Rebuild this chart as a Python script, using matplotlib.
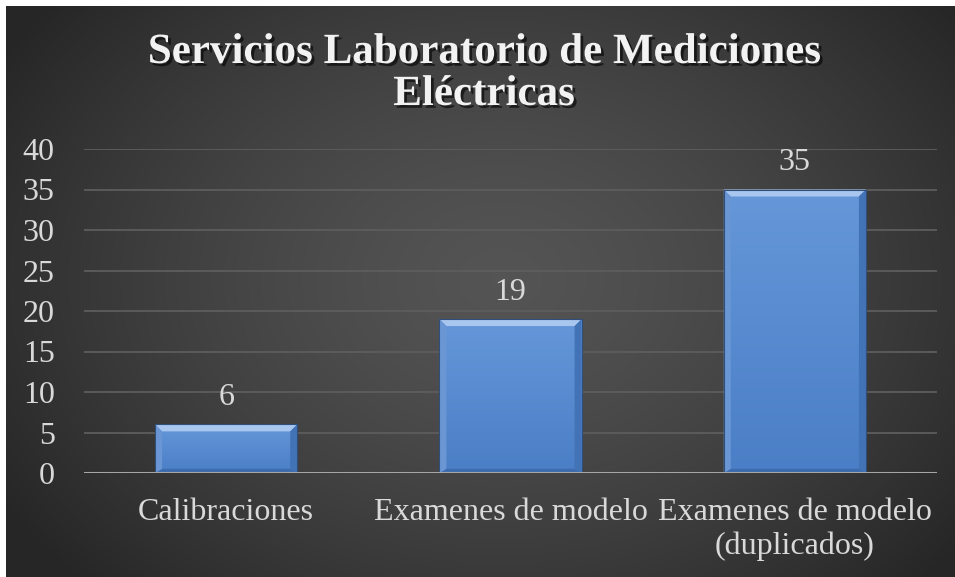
import matplotlib
matplotlib.use("Agg")
import matplotlib.pyplot as plt
import matplotlib.patheffects as pe
from matplotlib.patches import Polygon
import numpy as np

# ------------------------------------------------------------------
# Data
# ------------------------------------------------------------------
categories = ["Calibraciones", "Examenes de modelo", "Examenes de modelo\n(duplicados)"]
values = [6, 19, 35]
yticks = [0, 5, 10, 15, 20, 25, 30, 35, 40]
title_lines = ["Servicios Laboratorio de Mediciones", "Eléctricas"]

W_PX, H_PX, DPI = 955, 577, 100
plt.rcParams["font.family"] = ["Liberation Serif", "DejaVu Serif"]

fig = plt.figure(figsize=(W_PX / DPI, H_PX / DPI), dpi=DPI)
fig.patch.set_facecolor("white")

# ------------------------------------------------------------------
# Background: dark radial gradient (chart area starts 6 px in from top/left)
# ------------------------------------------------------------------
bg = fig.add_axes([6 / W_PX, 0, 1 - 6 / W_PX, 1 - 6 / H_PX], zorder=0)
gx, gy = np.meshgrid(np.linspace(6, W_PX, 400), np.linspace(6, H_PX, 250))
r = np.hypot((gx - 500) / 560, (gy - 280) / 420)
shade = np.clip(0.33 - 0.17 * r ** 1.4, 0.15, 0.34)
bg.imshow(np.dstack([shade] * 3), aspect="auto", interpolation="bilinear")
bg.axis("off")

# ------------------------------------------------------------------
# Plot area
# ------------------------------------------------------------------
left, right = 84 / W_PX, 937 / W_PX
bottom, top = 1 - 473 / H_PX, 1 - 149 / H_PX
ax = fig.add_axes([left, bottom, right - left, top - bottom], zorder=1)
ax.set_facecolor("none")
x = np.arange(len(categories))
ax.set_xlim(-0.5, len(categories) - 0.5)
ax.set_ylim(0, 40)

for yv in yticks[1:]:
    ax.axhline(yv, color="#5d5d5d", lw=1.3, zorder=0)
ax.axhline(0, color="#a6a6a6", lw=2.2, zorder=4)

bars = ax.bar(x, values, width=0.5, color="#5b8fd3", zorder=2)

# px -> data conversions for bevel thickness
ax_w_px = (right - left) * W_PX
ax_h_px = (top - bottom) * H_PX
dx = 7 * 3.0 / ax_w_px
dy = 7 * 40.0 / ax_h_px

grad = np.linspace(0, 1, 100).reshape(-1, 1)
bar_cmap = matplotlib.colors.LinearSegmentedColormap.from_list("bar", ["#4a7ec6", "#6597d9"])
for b in bars:
    x0, y0 = b.get_x(), b.get_y()
    w, h = b.get_width(), b.get_height()
    x1, y1 = x0 + w, y0 + h
    im = ax.imshow(grad, cmap=bar_cmap, extent=[x0, x1, y0, y1],
                   aspect="auto", origin="lower", zorder=2.1)
    im.set_clip_path(b)
    # bevel facets
    ax.add_patch(Polygon([(x0, y1), (x1, y1), (x1 - dx, y1 - dy), (x0 + dx, y1 - dy)],
                         closed=True, fc="#a9c6ee", ec="none", zorder=2.2))
    ax.add_patch(Polygon([(x0, y0), (x1, y0), (x1 - dx, y0 + dy * 0.6), (x0 + dx, y0 + dy * 0.6)],
                         closed=True, fc="#3d6cae", ec="none", zorder=2.2))
    ax.add_patch(Polygon([(x0, y0), (x0, y1), (x0 + dx, y1 - dy), (x0 + dx, y0 + dy * 0.6)],
                         closed=True, fc="#6a96d4", ec="none", zorder=2.2))
    ax.add_patch(Polygon([(x1, y0), (x1, y1), (x1 - dx, y1 - dy), (x1 - dx, y0 + dy * 0.6)],
                         closed=True, fc="#4273b6", ec="none", zorder=2.2))
    ax.plot([x0, x1, x1, x0, x0], [y0, y0, y1, y1, y0], color="#2f4f7a", lw=0.8, zorder=2.3)
    ax.text(b.get_x() + w / 2, y1 + 27 * 40.0 / ax_h_px, f"{int(h)}",
            ha="center", va="center", fontsize=23, color="#d9d9d9", zorder=5)

ax.set_yticks(yticks)
ax.set_xticks(x)
ax.set_xticklabels(categories, linespacing=1.2)
ax.tick_params(axis="y", length=0, pad=21, labelsize=23, labelcolor="#d9d9d9")
ax.tick_params(axis="x", length=0, pad=18, labelsize=23, labelcolor="#d9d9d9")
for s in ax.spines.values():
    s.set_visible(False)

# ------------------------------------------------------------------
# Title with drop shadow
# ------------------------------------------------------------------
shadow = [pe.withSimplePatchShadow(offset=(2, -2), shadow_rgbFace="black", alpha=0.6)]
fig.text(484 / W_PX, 1 - 63 / H_PX, title_lines[0], ha="center", va="baseline",
         fontsize=31, fontweight="bold", color="#f2f2f2", path_effects=shadow, zorder=5)
fig.text(484 / W_PX, 1 - 105 / H_PX, title_lines[1], ha="center", va="baseline",
         fontsize=31, fontweight="bold", color="#f2f2f2", path_effects=shadow, zorder=5)

fig.savefig("out.png", dpi=DPI, facecolor=fig.get_facecolor())
